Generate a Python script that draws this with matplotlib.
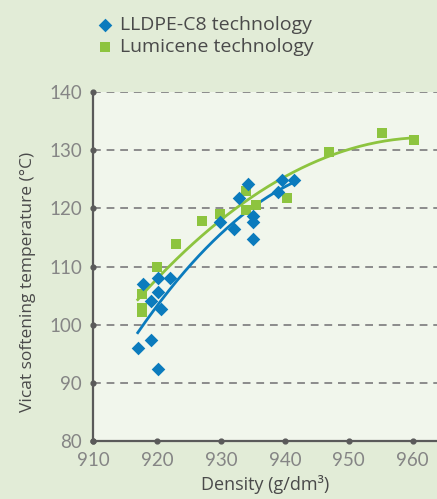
import matplotlib
matplotlib.use("Agg")
import matplotlib.pyplot as plt
import numpy as np

# ---- data ----
blue_x = [917.0, 917.8, 919.0, 919.1, 920.1, 920.1, 920.1, 920.6, 922.0, 929.9,
          932.0, 932.8, 934.2, 935.0, 935.0, 935.0, 939.0, 939.6, 941.4]
blue_y = [96.0, 107.0, 104.0, 97.3, 92.4, 105.7, 108.1, 102.7, 108.1, 117.7,
          116.5, 121.7, 124.1, 118.7, 117.7, 114.7, 122.8, 124.9, 124.8]
green_x = [917.6, 917.6, 917.6, 920.0, 923.0, 927.0, 929.9, 934.0, 934.0, 935.5,
           940.3, 946.9, 955.2, 960.2]
green_y = [105.3, 102.9, 102.2, 110.0, 113.9, 117.8, 119.0, 123.0, 119.7, 120.6,
           121.8, 129.7, 132.9, 131.8]
series_names = ["LLDPE-C8 technology", "Lumicene technology"]
x_ticks = [910, 920, 930, 940, 950, 960]
y_ticks = [80, 90, 100, 110, 120, 130, 140]
x_label = "Density (g/dm³)"
y_label = "Vicat softening temperature (°C)"

BLUE = "#0b7bbd"
GREEN = "#8dc43f"
TXT = "#4a4a4a"
AX = "#5a5a5a"

fig = plt.figure(figsize=(4.37, 4.99), dpi=100)
fig.patch.set_facecolor("#e2ecd7")
ax = fig.add_axes([93 / 437, 58 / 499, (437 - 93) / 437, (441 - 92) / 499])
ax.set_facecolor("#f1f6ec")

ax.set_xlim(910, 963.8)
ax.set_ylim(80, 140)

# grid
for yv in y_ticks[1:]:
    ax.axhline(yv, color="#8c8c8c", lw=1.4, ls=(0, (4, 3)), zorder=1)

# trend lines (quadratic fits of each series)
bc = np.polyfit(blue_x, blue_y, 2)
gc = np.polyfit(green_x, green_y, 2)
xb = np.linspace(min(blue_x), max(blue_x), 200)
xg = np.linspace(min(green_x) - 0.6, max(green_x), 200)
ax.plot(xb, np.polyval(bc, xb), color=BLUE, lw=2.0, zorder=3)
ax.plot(xg, np.polyval(gc, xg), color=GREEN, lw=2.0, zorder=3)

ax.scatter(green_x, green_y, marker="s", s=62, color=GREEN, zorder=4, linewidths=0,
           label=series_names[1])
ax.scatter(blue_x, blue_y, marker="D", s=48, color=BLUE, zorder=5, linewidths=0,
           label=series_names[0])

for s in ["top", "right"]:
    ax.spines[s].set_visible(False)
for s in ["left", "bottom"]:
    ax.spines[s].set_color(AX)
    ax.spines[s].set_linewidth(1.6)

ax.set_xticks(x_ticks)
ax.set_yticks(y_ticks)
ax.tick_params(length=0, pad=8, labelsize=13.5, labelcolor="#858585")
for lab in ax.get_xticklabels() + ax.get_yticklabels():
    lab.set_fontfamily("Lato")
    lab.set_fontweight("normal")

# tick dots
ax.scatter([910] * len(y_ticks), y_ticks, s=12, color=AX, zorder=6, clip_on=False)
ax.scatter(x_ticks, [80] * len(x_ticks), s=12, color=AX, zorder=6, clip_on=False)

ax.set_xlabel(x_label, fontsize=13, color=TXT, family="Open Sans", labelpad=4)
ax.set_ylabel(y_label, fontsize=12.5, color=TXT, family="Open Sans")
ax.yaxis.set_label_coords((36 - 93) / 344, (441 - 282) / 349)

# legend
h, l = ax.get_legend_handles_labels()
order = [1, 0]
leg = fig.legend([h[i] for i in order], [l[i] for i in order],
                 loc="upper left", bbox_to_anchor=(87 / 437, 1 - 8 / 499),
                 frameon=False, handletextpad=0.3, labelspacing=0.2,
                 borderaxespad=0, handlelength=1.0,
                 prop={"family": "Open Sans", "size": 14})
for t in leg.get_texts():
    t.set_color(TXT)

fig.savefig("out.png", dpi=100, facecolor=fig.get_facecolor())
